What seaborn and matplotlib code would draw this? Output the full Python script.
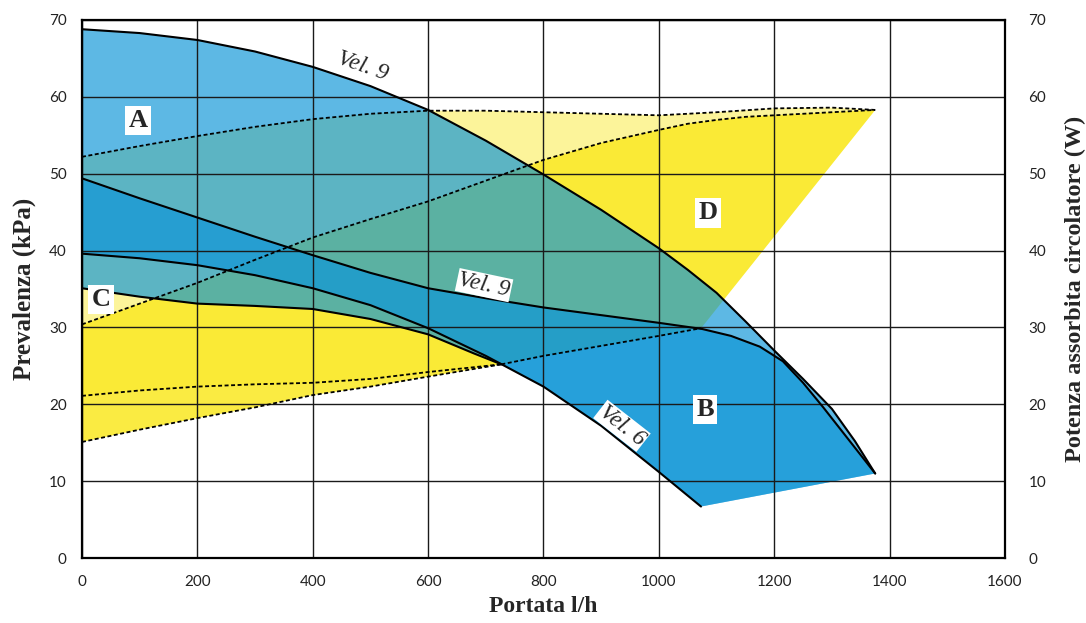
import matplotlib.pyplot as plt
import numpy as np
import seaborn as sns

# flow rate (l/h) and head (kPa)
head_a9_x = [0, 100, 200, 300, 400, 500, 600, 700, 800, 900, 1000, 1050, 1100, 1150, 1200, 1250, 1300, 1340, 1375]
head_a9_y = [68.8, 68.3, 67.4, 65.9, 63.9, 61.4, 58.3, 54.3, 49.9, 45.3, 40.3, 37.5, 34.5, 30.8, 27.0, 23.3, 19.4, 15.2, 11.0]

head_b9_x = [0, 100, 200, 300, 400, 500, 600, 700, 800, 900, 1000, 1075, 1125, 1175, 1215, 1250, 1285, 1330, 1375]
head_b9_y = [49.4, 46.8, 44.3, 41.8, 39.4, 37.1, 35.1, 33.8, 32.6, 31.6, 30.6, 29.8, 28.9, 27.5, 25.6, 22.8, 19.6, 15.3, 11.0]

head_b6_x = [0, 100, 200, 300, 400, 500, 600, 700, 800, 900, 1000, 1073]
head_b6_y = [39.6, 39.0, 38.1, 36.8, 35.1, 32.9, 29.9, 26.3, 22.3, 17.2, 11.2, 6.7]

head_a6_x = [0, 100, 200, 300, 400, 500, 600, 680, 727]
head_a6_y = [35.1, 34.0, 33.1, 32.8, 32.4, 31.1, 29.1, 26.6, 25.2]

# absorbed power (W), dashed curves
power_a_top_x = [0, 100, 200, 300, 400, 500, 600, 700, 800, 900, 1000, 1100, 1200, 1300, 1375]
power_a_top_y = [52.2, 53.6, 54.9, 56.1, 57.1, 57.8, 58.2, 58.2, 58.0, 57.8, 57.6, 58.0, 58.5, 58.6, 58.3]

power_b_top_x = [0, 100, 200, 300, 400, 500, 600, 700, 800, 900, 1000, 1050, 1100, 1150, 1200, 1300, 1375]
power_b_top_y = [30.4, 33.1, 35.8, 38.8, 41.7, 44.1, 46.4, 49.1, 51.8, 54.0, 55.7, 56.5, 57.0, 57.4, 57.6, 58.0, 58.3]

power_a_low_x = [0, 100, 200, 300, 400, 500, 600, 727]
power_a_low_y = [21.1, 21.8, 22.3, 22.6, 22.8, 23.3, 24.2, 25.2]

power_b_low_x = [0, 100, 200, 300, 400, 500, 600, 727]
power_b_low_y = [15.1, 16.7, 18.2, 19.6, 21.2, 22.3, 23.6, 25.2]

power_tail_x = [727, 800, 900, 1000, 1073]
power_tail_y = [25.2, 26.3, 27.6, 28.9, 29.9]

X_TICKS = list(range(0, 1601, 200))
Y_TICKS = list(range(0, 71, 10))

zone_labels = ["A", "B", "C", "D"]
zone_label_x = [97, 1080, 33, 1085]
zone_label_y = [56.9, 19.3, 33.6, 44.9]

speed_labels = ["Vel. 9", "Vel. 9", "Vel. 6"]
speed_label_x = [487, 697, 936]
speed_label_y = [64.0, 35.5, 17.2]
speed_label_rot = [-19, -12, -38]

BLUE = "#0F96D7"
YELLOW = "#FAE928"
SERIF = "Liberation Serif"


def polygon(top_x, top_y, bottom_x, bottom_y):
    """Closed outline: top curve left->right, bottom curve right->left."""
    xs = list(top_x) + list(bottom_x)[::-1]
    ys = list(top_y) + list(bottom_y)[::-1]
    return xs, ys


def draw_line(ax, xs, ys, dashed=False):
    style = (0, (2.2, 1.4)) if dashed else "-"
    width = 1.3 if dashed else 1.5
    sns.lineplot(x=np.array(xs), y=np.array(ys), color="black", linewidth=width,
                 linestyle=style, ax=ax, zorder=5)


def main() -> None:
    sns.set_style("white")
    plt.rcParams["font.family"] = ["Lato", "DejaVu Sans"]

    fig = plt.figure(figsize=(10.86, 6.23), dpi=100)
    ax = fig.add_axes([0.0755, 0.1043, 0.8499, 0.8636])

    # power regions (yellow)
    tail_a_x = power_a_low_x + power_tail_x[1:]
    tail_a_y = power_a_low_y + power_tail_y[1:]
    tail_b_x = power_b_low_x + power_tail_x[1:]
    tail_b_y = power_b_low_y + power_tail_y[1:]
    xs, ys = polygon(power_a_top_x, power_a_top_y, tail_a_x, tail_a_y)
    ax.fill(xs, ys, color=YELLOW, alpha=0.47, lw=0, zorder=1)
    xs, ys = polygon(power_b_top_x, power_b_top_y, tail_b_x, tail_b_y)
    ax.fill(xs, ys, color=YELLOW, alpha=0.88, lw=0, zorder=1)

    # head regions (blue)
    a_bottom_x = head_a6_x + [x for x in head_b6_x if x > head_a6_x[-1]]
    a_bottom_y = head_a6_y + [y for x, y in zip(head_b6_x, head_b6_y) if x > head_a6_x[-1]]
    xs, ys = polygon(head_a9_x, head_a9_y, a_bottom_x, a_bottom_y)
    ax.fill(xs, ys, color=BLUE, alpha=0.675, lw=0, zorder=2)
    xs, ys = polygon(head_b9_x, head_b9_y, head_b6_x, head_b6_y)
    ax.fill(xs, ys, color=BLUE, alpha=0.7, lw=0, zorder=2)

    for xs, ys in [(head_a9_x, head_a9_y), (head_b9_x, head_b9_y),
                   (head_b6_x, head_b6_y), (head_a6_x, head_a6_y)]:
        draw_line(ax, xs, ys)
    for xs, ys in [(power_a_top_x, power_a_top_y), (power_b_top_x, power_b_top_y),
                   (power_a_low_x, power_a_low_y), (power_b_low_x, power_b_low_y),
                   (power_tail_x, power_tail_y)]:
        draw_line(ax, xs, ys, dashed=True)

    for text, x, y in zip(zone_labels, zone_label_x, zone_label_y):
        ax.text(x, y, text, family=SERIF, fontweight="bold", fontsize=19,
                ha="center", va="center", zorder=8,
                bbox=dict(boxstyle="square,pad=0.12", fc="white", ec="none"))

    for i, (text, x, y, rot) in enumerate(zip(speed_labels, speed_label_x,
                                              speed_label_y, speed_label_rot)):
        box = None if i == 0 else dict(boxstyle="square,pad=0.05", fc="white", ec="none")
        ax.text(x, y, text, family=SERIF, style="italic", fontsize=17, rotation=rot,
                rotation_mode="anchor", ha="center", va="center", zorder=8, bbox=box)

    ax.set_xlim(0, 1600)
    ax.set_ylim(0, 70)
    ax.set_xticks(X_TICKS)
    ax.set_yticks(Y_TICKS)
    ax.grid(True, color="#1a1a1a", linewidth=1.0, zorder=3)
    ax.set_axisbelow(False)
    for line in ax.get_xgridlines() + ax.get_ygridlines():
        line.set_zorder(3)
    ax.tick_params(length=0, labelsize=11, labelcolor="#222222")
    ax.tick_params(axis="x", pad=12)
    ax.tick_params(axis="y", pad=11)
    for spine in ax.spines.values():
        spine.set_linewidth(1.6)
        spine.set_color("black")
        spine.set_zorder(6)

    ax.set_xlabel("Portata l/h", family=SERIF, fontweight="bold", fontsize=17, labelpad=5)
    ax.set_ylabel("Prevalenza (kPa)", family=SERIF, fontweight="bold", fontsize=18, labelpad=9)

    ax2 = ax.twinx()
    ax2.set_ylim(0, 70)
    ax2.set_yticks(Y_TICKS)
    ax2.tick_params(length=0, labelsize=11, labelcolor="#222222", pad=17)
    ax2.grid(False)
    for spine in ax2.spines.values():
        spine.set_visible(False)
    ax2.set_ylabel("Potenza assorbita circolatore (W)", family=SERIF, fontweight="bold",
                   fontsize=17.5, labelpad=13)

    fig.savefig("out.png", dpi=100)
    plt.close(fig)


if __name__ == "__main__":
    main()
